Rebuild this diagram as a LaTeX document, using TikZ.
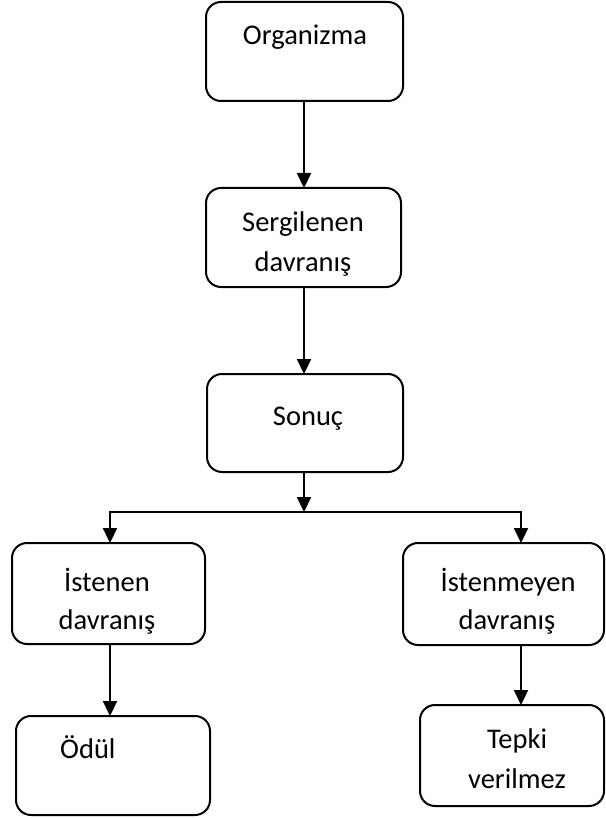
\documentclass[tikz,border=0pt]{standalone}
\usepackage{fontspec}
\setmainfont{Carlito}
\usetikzlibrary{arrows.meta}
\begin{document}
\begin{tikzpicture}[x=1pt,y=-1pt,
  box/.style={draw, line width=2pt, rounded corners=15pt, inner sep=0pt, outer sep=0pt},
  lbl/.style={anchor=base, inner sep=0pt, font=\fontsize{28.5}{34}\selectfont},
  flow/.style={line width=2.2pt, -{Triangle[length=15pt,width=14pt]}}]
\useasboundingbox (0,0) rectangle (605,818);

% boxes
\node[box, minimum width=197pt, minimum height=99pt]  (org)  at (304.5,51.5) {};
\node[box, minimum width=195pt, minimum height=99pt]  (serg) at (303.5,237.5) {};
\node[box, minimum width=196pt, minimum height=98pt]  (son)  at (305,423) {};
\node[box, minimum width=193pt, minimum height=101pt] (ist)  at (108.5,593.5) {};
\node[box, minimum width=201pt, minimum height=102pt] (istm) at (503.5,594) {};
\node[box, minimum width=194pt, minimum height=99pt]  (odul) at (113,765.5) {};
\node[box, minimum width=184pt, minimum height=101pt] (tep)  at (512,755.5) {};

% labels
\node[lbl] (torg)  at (305,45)  {Organizma};
\node[lbl] (tserg1) at (303,232) {Sergilenen};
\node[lbl] (tserg2) at (303,271) {davranış};
\node[lbl] (tson)  at (308,425) {Sonuç};
\node[lbl] (tist1) at (107,591) {İstenen};
\node[lbl] (tist2) at (107,629) {davranış};
\node[lbl] (tistm1) at (508,591) {İstenmeyen};
\node[lbl] (tistm2) at (507,629) {davranış};
\node[lbl, anchor=base west] (todul) at (60,758) {Ödül};
\node[lbl] (ttep1) at (517,748) {Tepki};
\node[lbl] (ttep2) at (517,788) {verilmez};

% branch line
\coordinate (busL) at (110,512);
\coordinate (busR) at (521,512);
\coordinate (mid) at (304,0);

% connectors
\draw[flow] (mid |- org.south) -- (mid |- serg.north);
\draw[flow] (mid |- serg.south) -- (mid |- son.north);
\draw[flow] (mid |- son.south) -- (mid |- busL);
\draw[flow] (busR) -- (busL) -- (busL |- ist.north);
\draw[flow] (busL) -- (busR) -- (busR |- istm.north);
\draw[flow] (busL |- ist.south) -- (busL |- odul.north);
\draw[flow] (busR |- istm.south) -- (busR |- tep.north);
\end{tikzpicture}
\end{document}
